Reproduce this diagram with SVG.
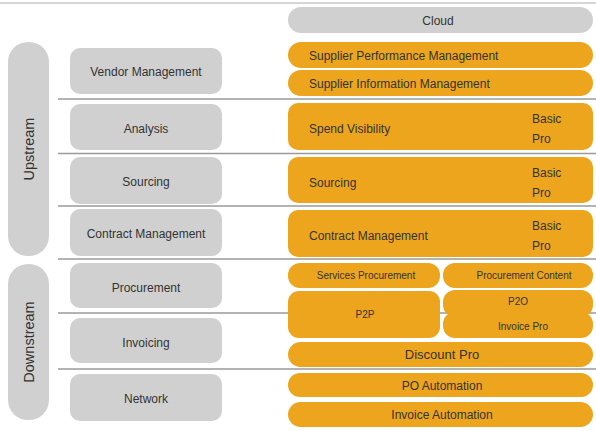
<svg xmlns="http://www.w3.org/2000/svg" width="596" height="431" viewBox="0 0 596 431">
<style>
text{font-family:"Liberation Sans",Arial,sans-serif;fill:#333;}
.g{fill:#d0d0d0;}
.o{fill:#eca51c;}
.sep{stroke:#9a9a9a;stroke-width:1.3;fill:none;}
.c{text-anchor:middle;}
.f12{font-size:12px;}
.f10{font-size:10px;}
.f14{font-size:14.5px;}
.f13{font-size:13px;}
</style>
<rect width="596" height="431" fill="#fff"/>
<g id="connectors">
<line class="sep" x1="0" y1="3" x2="596" y2="3" style="stroke:#c8c8c8"/>
<line class="sep" x1="58" y1="99" x2="596" y2="99"/>
<line class="sep" x1="58" y1="153.5" x2="596" y2="153.5"/>
<line class="sep" x1="58" y1="206" x2="596" y2="206"/>
<line class="sep" x1="58" y1="259" x2="596" y2="259"/>
<line class="sep" x1="58" y1="313" x2="596" y2="313"/>
<line class="sep" x1="58" y1="369" x2="596" y2="369"/>
</g>
<g id="upstream"><rect class="g" x="8" y="42" width="41" height="214" rx="20"/><text class="c f14" transform="translate(33.5,149) rotate(-90)">Upstream</text></g>
<g id="downstream"><rect class="g" x="8" y="264" width="41" height="156" rx="20"/><text class="c f14" transform="translate(33.5,342) rotate(-90)">Downstream</text></g>
<g id="vendor-management"><rect class="g" x="70" y="48" width="152" height="46" rx="10"/><text class="c f12" x="146" y="75.5">Vendor Management</text></g>
<g id="analysis"><rect class="g" x="70" y="104" width="152" height="46" rx="10"/><text class="c f12" x="146" y="133">Analysis</text></g>
<g id="sourcing"><rect class="g" x="70" y="157" width="152" height="47" rx="10"/><text class="c f12" x="146" y="186">Sourcing</text></g>
<g id="contract-management"><rect class="g" x="70" y="209" width="152" height="47" rx="10"/><text class="c f12" x="146" y="237.5">Contract Management</text></g>
<g id="procurement"><rect class="g" x="70" y="263" width="152" height="45" rx="10"/><text class="c f12" x="146" y="292">Procurement</text></g>
<g id="invoicing"><rect class="g" x="70" y="318" width="152" height="45" rx="10"/><text class="c f12" x="146" y="346.5">Invoicing</text></g>
<g id="network"><rect class="g" x="70" y="374" width="152" height="47" rx="10"/><text class="c f12" x="146" y="402.5">Network</text></g>
<g id="cloud"><rect class="g" x="288" y="7" width="305" height="26" rx="13"/><text class="c f12" x="438" y="24.5">Cloud</text></g>
<g id="supplier-performance"><rect class="o" x="288" y="42" width="305" height="26" rx="13"/><text class="f12" x="309" y="59.5">Supplier Performance Management</text></g>
<g id="supplier-information"><rect class="o" x="288" y="70" width="305" height="26" rx="13"/><text class="f12" x="309" y="87.5">Supplier Information Management</text></g>
<g id="spend-visibility"><rect class="o" x="288" y="103" width="305" height="47" rx="10"/><text class="f12" x="309" y="132.5">Spend Visibility</text><text class="f12" x="532" y="122.5">Basic</text><text class="f12" x="532" y="142.5">Pro</text></g>
<g id="sourcing-app"><rect class="o" x="288" y="157" width="305" height="46" rx="10"/><text class="f12" x="309" y="186.5">Sourcing</text><text class="f12" x="532" y="176.5">Basic</text><text class="f12" x="532" y="196.5">Pro</text></g>
<g id="contract-app"><rect class="o" x="288" y="210" width="305" height="47" rx="10"/><text class="f12" x="309" y="239.5">Contract Management</text><text class="f12" x="532" y="229.5">Basic</text><text class="f12" x="532" y="249.5">Pro</text></g>
<g id="services-procurement"><rect class="o" x="288" y="263" width="152" height="25" rx="12"/><text class="c f10" x="366" y="279">Services Procurement</text></g>
<g id="procurement-content"><rect class="o" x="443" y="263" width="150" height="25" rx="12"/><text class="c f10" x="524" y="279">Procurement Content</text></g>
<g id="p2p"><rect class="o" x="288" y="291" width="152" height="47" rx="11"/><text class="c f10" x="365" y="317.5">P2P</text></g>
<g id="p2o"><rect class="o" x="443" y="290" width="150" height="27" rx="12"/><text class="c f10" x="518" y="305">P2O</text></g>
<g id="invoice-pro"><rect class="o" x="443" y="312" width="150" height="26" rx="12"/><text class="c f10" x="523" y="330">Invoice Pro</text></g>
<g id="discount-pro"><rect class="o" x="288" y="342" width="305" height="25" rx="12.5"/><text class="c f13" x="442" y="359">Discount Pro</text></g>
<g id="po-automation"><rect class="o" x="288" y="373" width="305" height="24" rx="12"/><text class="c f12" x="442" y="389.5">PO Automation</text></g>
<g id="invoice-automation"><rect class="o" x="288" y="402" width="305" height="25" rx="12.5"/><text class="c f12" x="442" y="418.5">Invoice Automation</text></g>
</svg>
